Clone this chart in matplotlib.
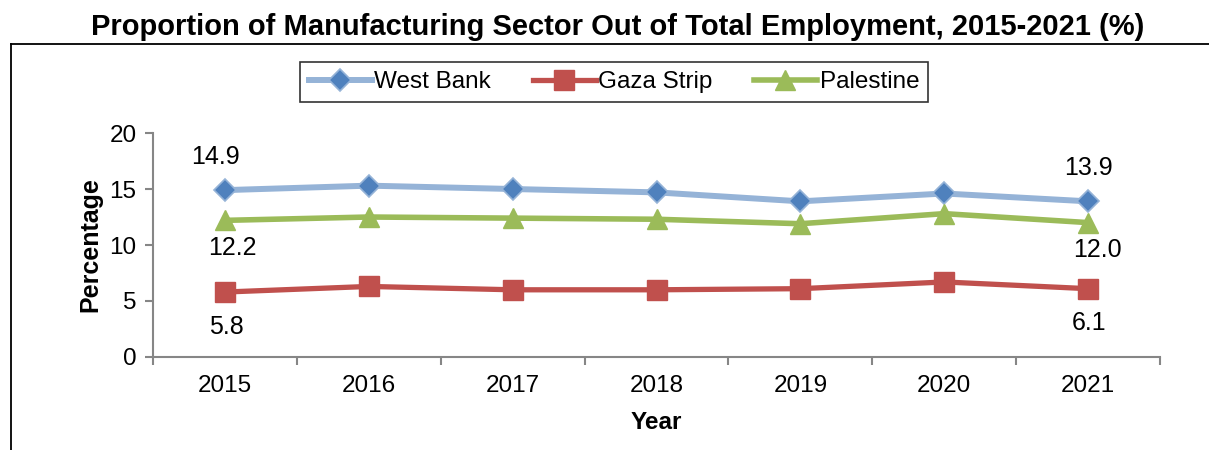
import matplotlib
matplotlib.use('Agg')
import matplotlib.pyplot as plt
from matplotlib.lines import Line2D

plt.rcParams['font.family'] = ['Liberation Sans', 'DejaVu Sans']

years = ['2015', '2016', '2017', '2018', '2019', '2020', '2021']
west_bank = [14.9, 15.3, 15.0, 14.7, 13.9, 14.6, 13.9]
gaza = [5.8, 6.3, 6.0, 6.0, 6.1, 6.7, 6.1]
palestine = [12.2, 12.5, 12.4, 12.3, 11.9, 12.8, 12.0]
y_ticks = [0, 5, 10, 15, 20]

x = list(range(len(years)))
fs = 17.5

fig = plt.figure(figsize=(12.09, 4.5), dpi=100)
ax = fig.add_axes([0.1266, 0.2067, 0.8329, 0.4977])

ax.plot(x, west_bank, color='#95B3D7', lw=4.3, marker='D', ms=11,
        mfc='#4F81BD', mec='#95B3D7', mew=1.2, label='West Bank', zorder=3)
ax.plot(x, gaza, color='#C0504D', lw=3.8, marker='s', ms=14,
        mfc='#C0504D', mec='#C0504D', label='Gaza Strip', zorder=3)
ax.plot(x, palestine, color='#9BBB59', lw=4.0, marker='^', ms=15,
        mfc='#9BBB59', mec='#9BBB59', label='Palestine', zorder=3)

# data labels for first and last year
for i, dx_wb, dx_pa, dx_gz in [(0, -7, 5, 1), (len(x) - 1, 0, 7, 1)]:
    ax.annotate(f'{west_bank[i]:.1f}', (x[i], west_bank[i]), xytext=(dx_wb, 24),
                textcoords='offset points', ha='center', va='center', fontsize=18)
    ax.annotate(f'{palestine[i]:.1f}', (x[i], palestine[i]), xytext=(dx_pa, -20),
                textcoords='offset points', ha='center', va='center', fontsize=18)
    ax.annotate(f'{gaza[i]:.1f}', (x[i], gaza[i]), xytext=(dx_gz, -25),
                textcoords='offset points', ha='center', va='center', fontsize=18)

ax.set_xlim(-0.5, len(x) - 0.5)
ax.set_ylim(0, 20)
ax.set_yticks(y_ticks)
ax.set_xticks(x)
ax.set_xticklabels(years)
ax.set_xticks([i - 0.5 for i in range(len(x) + 1)], minor=True)
ax.tick_params(axis='x', which='major', length=0, pad=13, labelsize=fs)
ax.tick_params(axis='x', which='minor', length=6, width=1.5, color='#868686', direction='out')
ax.tick_params(axis='y', length=6, width=1.5, color='#868686', direction='out', labelsize=fs, pad=6)

for s in ['top', 'right']:
    ax.spines[s].set_visible(False)
for s in ['left', 'bottom']:
    ax.spines[s].set_color('#868686')
    ax.spines[s].set_linewidth(1.5)

ax.set_xlabel('Year', fontsize=fs, fontweight='bold', labelpad=10)
ax.set_ylabel('Percentage', fontsize=18, fontweight='bold', labelpad=5)

leg = ax.legend(loc='center', ncol=3, fontsize=fs, frameon=True, fancybox=False,
                edgecolor='black', handlelength=2.6, handletextpad=0.1,
                columnspacing=1.7, borderpad=0.35)
leg.set_bbox_to_anchor((614 / 1209, 1 - 82 / 450), transform=fig.transFigure)
leg.get_frame().set_linewidth(1.2)

fig.suptitle('Proportion of Manufacturing Sector Out of Total Employment, 2015-2021 (%)',
             x=0.511, y=1 - 27 / 450, va='center', fontsize=21, fontweight='bold')

# outer chart frame (partially cropped)
fig.add_artist(Line2D([11 / 1209, 1.0], [1 - 44 / 450, 1 - 44 / 450],
                      transform=fig.transFigure, color='black', lw=1.3))
fig.add_artist(Line2D([11 / 1209, 11 / 1209], [1 - 44 / 450, 0.0],
                      transform=fig.transFigure, color='black', lw=1.3))

fig.savefig('out.png', dpi=100)
